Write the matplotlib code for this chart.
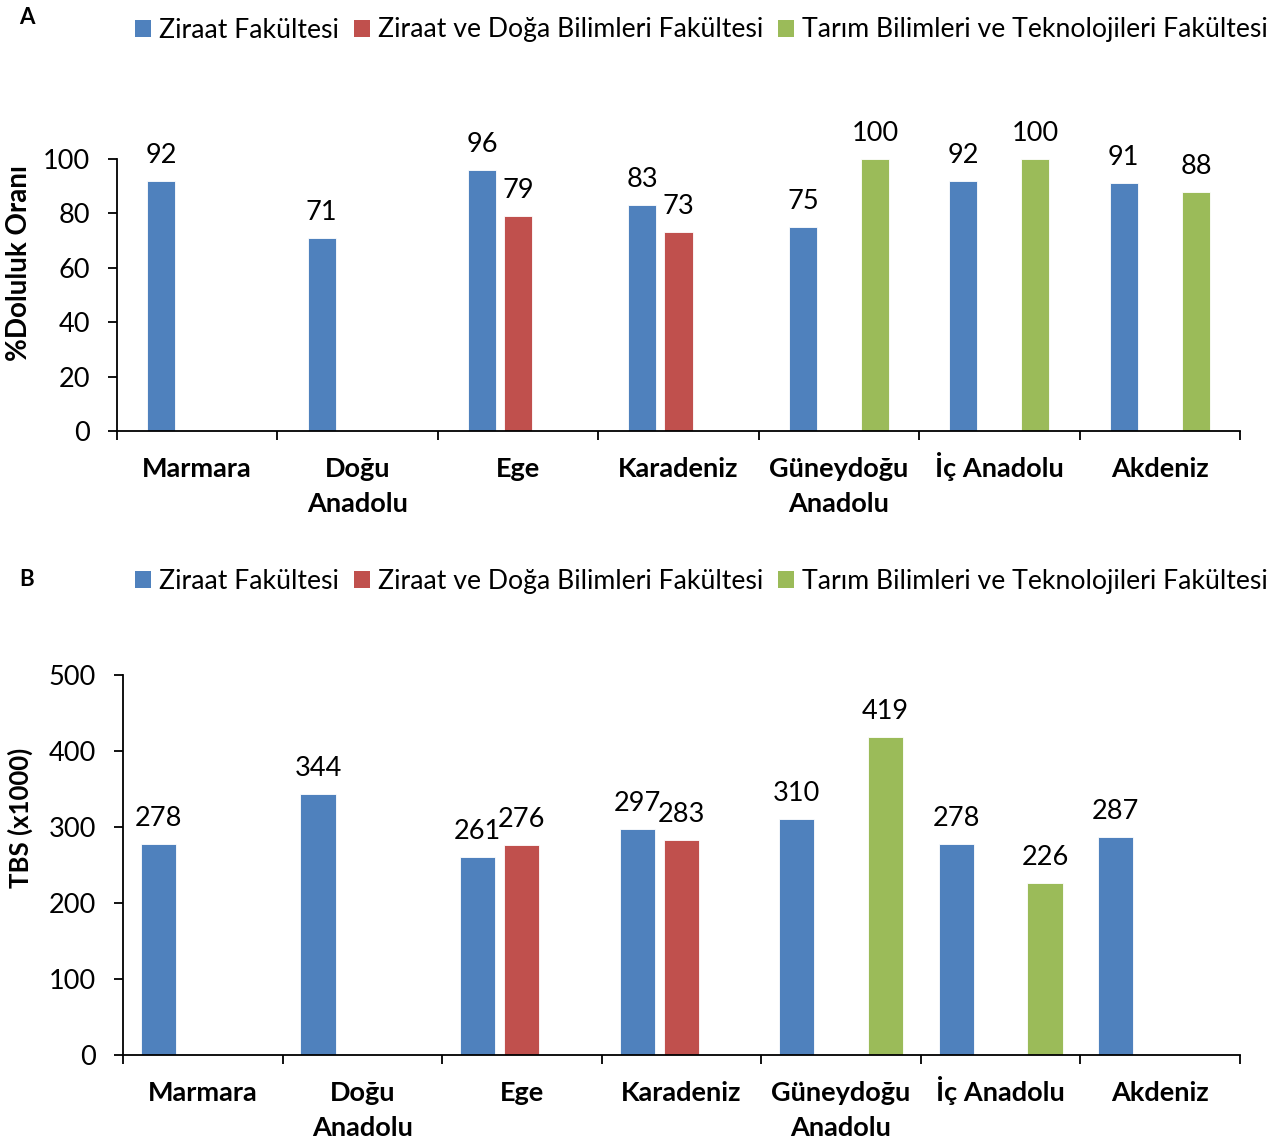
import numpy as np
import matplotlib.pyplot as plt
from matplotlib.patches import Patch

plt.rcParams['font.family'] = ['Lato', 'DejaVu Sans']

nan = np.nan

# Bölgeler ve fakülte türleri
regions = ["Marmara", "Doğu\nAnadolu", "Ege", "Karadeniz",
           "Güneydoğu\nAnadolu", "İç Anadolu", "Akdeniz"]
faculties = ["Ziraat Fakültesi",
             "Ziraat ve Doğa Bilimleri Fakültesi",
             "Tarım Bilimleri ve Teknolojileri Fakültesi"]
colors = ["#4F81BD", "#C0504D", "#9BBB59"]

# A: % doluluk oranı
doluluk_ziraat = [92, 71, 96, 83, 75, 92, 91]
doluluk_zdbf = [nan, nan, 79, 73, nan, nan, nan]
doluluk_tbtf = [nan, nan, nan, nan, 100, 100, 88]

# B: taban başarı sırası (x1000)
tbs_ziraat = [278, 344, 261, 297, 310, 278, 287]
tbs_zdbf = [nan, nan, 276, 283, nan, nan, nan]
tbs_tbtf = [nan, nan, nan, nan, 419, 226, nan]

FS = 19.5
W, H = 1278, 1144


def draw_panel(ax, series, width, offset, ymax, ystep):
    x = np.arange(len(regions)) + 0.5
    for vals, color, off in zip(series, colors, (-offset, 0, offset)):
        vals = np.asarray(vals, dtype=float)
        mask = ~np.isnan(vals)
        bars = ax.bar(x[mask] + off, vals[mask], width, color=color,
                      edgecolor='white', linewidth=0.6)
        for b, v in zip(bars, vals[mask]):
            ax.annotate(f"{v:.0f}", (b.get_x() + b.get_width() / 2, v),
                        xytext=(0, 13), textcoords='offset points',
                        ha='center', va='baseline', fontsize=FS,
                        annotation_clip=False)

    ax.set_xlim(0, len(regions))
    ax.set_ylim(0, ymax)
    ax.set_yticks(np.arange(0, ymax + 1, ystep))
    ax.set_xticks([])
    # category names, each line on a shared baseline
    for xc, name in zip(x, regions):
        for i, line in enumerate(name.split("\n")):
            ax.annotate(line, (xc, 0), xycoords=('data', 'axes fraction'),
                        xytext=(0, -33 - 25.2 * i), textcoords='offset points',
                        ha='center', va='baseline', fontsize=FS,
                        fontweight='bold', annotation_clip=False)
    ax.set_xticks(np.arange(len(regions) + 1), minor=True)
    ax.tick_params(axis='x', which='minor', length=6.5, width=1.3, direction='out')
    ax.tick_params(axis='y', length=6.5, width=1.3, pad=13, labelsize=FS)
    for side in ('top', 'right'):
        ax.spines[side].set_visible(False)
    for side in ('left', 'bottom'):
        ax.spines[side].set_linewidth(1.3)


def add_legend(fig, y):
    handles = [Patch(facecolor=c, edgecolor='none') for c in colors]
    fig.legend(handles, faculties, loc='center right',
               bbox_to_anchor=(1268 / W, 1 - y / H), ncol=3, frameon=False,
               fontsize=19.2, handlelength=0.6, handleheight=0.6,
               handletextpad=0.3, columnspacing=0.57,
               borderaxespad=0, borderpad=0)


fig = plt.figure(figsize=(W / 100, H / 100), dpi=100)

ax_a = fig.add_axes([117 / W, 1 - 431 / H, (1240 - 117) / W, (431 - 159) / H])
draw_panel(ax_a, [doluluk_ziraat, doluluk_zdbf, doluluk_tbtf],
           width=0.175, offset=0.225, ymax=100, ystep=20)

ax_b = fig.add_axes([123 / W, 1 - 1055 / H, (1240 - 123) / W, (1055 - 675) / H])
draw_panel(ax_b, [tbs_ziraat, tbs_zdbf, tbs_tbtf],
           width=0.22, offset=0.278, ymax=500, ystep=100)

add_legend(fig, 30)
add_legend(fig, 581)

fig.text(27 / W, 1 - 17 / H, "A", fontweight='bold', fontsize=16,
         ha='center', va='center')
fig.text(27 / W, 1 - 579 / H, "B", fontweight='bold', fontsize=16,
         ha='center', va='center')

fig.text(19 / W, 1 - 263 / H, "%Doluluk Oranı", rotation=90,
         fontweight='bold', fontsize=20, ha='center', va='center')
fig.text(20 / W, 1 - 818 / H, "TBS (x1000)", rotation=90,
         fontweight='bold', fontsize=18.5, ha='center', va='center')

fig.savefig("out.png", dpi=100)
